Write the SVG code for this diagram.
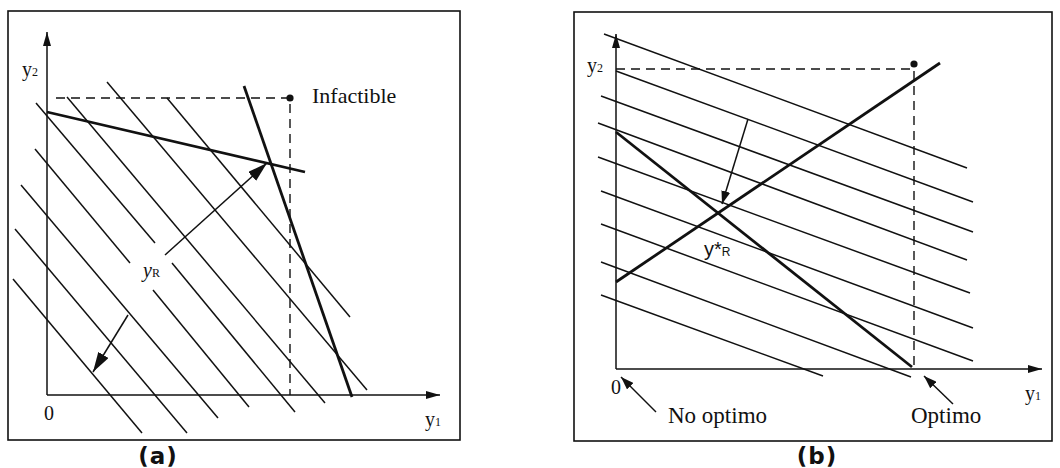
<svg xmlns="http://www.w3.org/2000/svg" width="1060" height="468" viewBox="0 0 1060 468">
<style>
.frame{fill:none;stroke:#111;stroke-width:1.6}
.axis{fill:none;stroke:#111;stroke-width:1.5}
.thin{fill:none;stroke:#111;stroke-width:1.5}
.thick{fill:none;stroke:#111;stroke-width:2.8}
.dash{fill:none;stroke:#111;stroke-width:1.4;stroke-dasharray:9,6}
.t{font-family:"Liberation Serif",serif;fill:#111}
.cap{font-family:"DejaVu Sans",sans-serif;font-weight:bold;font-size:23px;fill:#111;text-anchor:middle;letter-spacing:1px}
</style>
<defs>
<marker id="axhead" markerUnits="userSpaceOnUse" viewBox="0 0 14 8" refX="14" refY="4" markerWidth="14" markerHeight="8" orient="auto"><path d="M0,0 L14,4 L0,8 z" fill="#111"/></marker>
<marker id="bighead" markerUnits="userSpaceOnUse" viewBox="0 0 20 12" refX="20" refY="6" markerWidth="20" markerHeight="12" orient="auto"><path d="M0,0 L20,6 L0,12 z" fill="#111"/></marker>
<marker id="smallhead" markerUnits="userSpaceOnUse" viewBox="0 0 13 9" refX="13" refY="4.5" markerWidth="13" markerHeight="9" orient="auto"><path d="M0,0 L13,4.5 L0,9 z" fill="#111"/></marker>
</defs>

<g id="panel-a">
<rect class="frame" x="8" y="11" width="452" height="429"/>
<g id="a-hatch">
<line class="thin" x1="107" y1="82" x2="367" y2="390"/>
<line class="thin" x1="67" y1="97" x2="325" y2="403"/>
<line class="thin" x1="167" y1="98" x2="350" y2="317"/>
<line class="thin" x1="36" y1="103" x2="155" y2="243"/>
<line class="thin" x1="172" y1="263" x2="295" y2="412"/>
<line class="thin" x1="35" y1="149" x2="130" y2="263"/>
<line class="thin" x1="153" y1="290" x2="249" y2="407"/>
<line class="thin" x1="21" y1="185" x2="218" y2="418"/>
<line class="thin" x1="15" y1="229" x2="187" y2="433"/>
<line class="thin" x1="13" y1="279" x2="142" y2="433"/>
</g>
<g id="a-axes">
<line class="axis" x1="47" y1="395" x2="47" y2="32" marker-end="url(#axhead)"/>
<line class="axis" x1="47" y1="395" x2="440" y2="395" marker-end="url(#axhead)"/>
</g>
<g id="a-bounds">
<polyline class="dash" points="56,98 290,98 290,395"/>
<circle cx="290" cy="98" r="3.6" fill="#111"/>
<line class="thick" x1="47" y1="112" x2="305" y2="172"/>
<line class="thick" x1="244" y1="86" x2="352" y2="397"/>
</g>
<g id="a-arrows">
<line class="axis" x1="165" y1="255" x2="267" y2="163" stroke-width="1.8" marker-end="url(#bighead)"/>
<line class="axis" x1="128" y1="315" x2="93" y2="372" stroke-width="1.8" marker-end="url(#bighead)"/>
</g>
<g id="a-labels">
<text class="t" x="22" y="76" font-size="20">y<tspan font-size="12">2</tspan></text>
<text class="t" x="44" y="420" font-size="20">0</text>
<text class="t" x="425" y="426" font-size="20">y<tspan font-size="12">1</tspan></text>
<text class="t" x="143" y="277" font-size="20" font-style="italic">y<tspan font-size="12" font-style="normal">R</tspan></text>
<text class="t" x="312" y="103" font-size="22">Infactible</text>
<text class="cap" x="158" y="464">(a)</text>
</g>
</g>

<g id="panel-b">
<rect class="frame" x="574" y="12" width="478" height="429"/>
<g id="b-hatch">
<line class="thin" x1="604" y1="34" x2="967" y2="168"/>
<line class="thin" x1="616" y1="71" x2="973" y2="202"/>
<line class="thin" x1="601" y1="96" x2="973" y2="232"/>
<line class="thin" x1="598" y1="123" x2="967" y2="260"/>
<line class="thin" x1="598" y1="157" x2="970" y2="293"/>
<line class="thin" x1="601" y1="191" x2="973" y2="328"/>
<line class="thin" x1="601" y1="224" x2="973" y2="361"/>
<line class="thin" x1="601" y1="262" x2="911" y2="377"/>
<line class="thin" x1="601" y1="295" x2="823" y2="376"/>
</g>
<g id="b-axes">
<line class="axis" x1="616" y1="369" x2="616" y2="34" marker-end="url(#axhead)"/>
<line class="axis" x1="616" y1="369" x2="1042" y2="369" marker-end="url(#axhead)"/>
</g>
<g id="b-bounds">
<polyline class="dash" points="616,69 914,69 914,369"/>
<circle cx="914" cy="64" r="3.6" fill="#111"/>
<line class="thick" x1="616" y1="132" x2="912" y2="367"/>
<line class="thick" x1="616" y1="282" x2="940" y2="63"/>
</g>
<g id="b-arrows">
<line class="axis" x1="748" y1="119" x2="722" y2="204" stroke-width="1.5" marker-end="url(#smallhead)"/>
<line class="axis" x1="656" y1="412" x2="621" y2="377" stroke-width="1.8" marker-end="url(#smallhead)"/>
<line class="axis" x1="953" y1="404" x2="924" y2="376" stroke-width="1.8" marker-end="url(#smallhead)"/>
</g>
<g id="b-labels">
<text class="t" x="587" y="72" font-size="20">y<tspan font-size="12">2</tspan></text>
<text class="t" x="611" y="394" font-size="20">0</text>
<text class="t" x="1025" y="400" font-size="20">y<tspan font-size="12">1</tspan></text>
<text x="704" y="256" font-family="Liberation Sans, sans-serif" font-size="20" fill="#111">y*<tspan font-size="12">R</tspan></text>
<text class="t" x="668" y="423" font-size="23">No optimo</text>
<text class="t" x="911" y="423" font-size="23">Optimo</text>
<text class="cap" x="817" y="464">(b)</text>
</g>
</g>
</svg>
